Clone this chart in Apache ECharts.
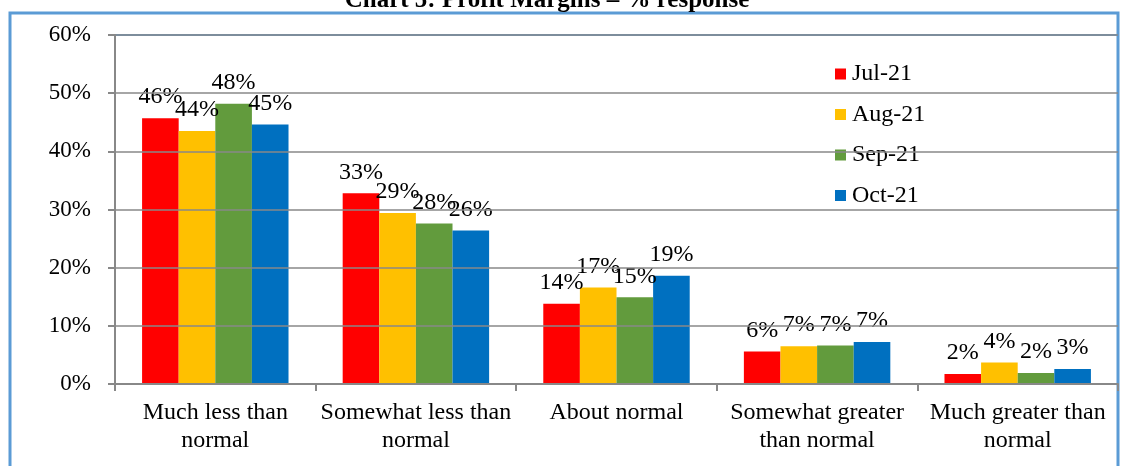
<!DOCTYPE html>
<html lang="en">
<head>
    <meta charset="UTF-8">
    <title>Chart 5: Profit Margins</title>
    <script src="https://cdn.jsdelivr.net/npm/echarts@6/dist/echarts.min.js"></script>
    <style>
        body, html {
            margin: 0;
            height: 100%;
            background: #fff;
        }

        #chart {
            width: 1138px;
            height: 466px;
        }
    </style>
</head>
<body>
<div id="chart"></div>
<script>
    // categories and series (percent response)
    const categories = ['Much less than\nnormal', 'Somewhat less than\nnormal', 'About normal',
        'Somewhat greater\nthan normal', 'Much greater than\nnormal'];
    const months = ['Jul-21', 'Aug-21', 'Sep-21', 'Oct-21'];
    const jul21 = [45.7, 32.8, 13.8, 5.6, 1.7];
    const aug21 = [43.5, 29.4, 16.6, 6.5, 3.7];
    const sep21 = [48.2, 27.6, 14.9, 6.6, 1.9];
    const oct21 = [44.6, 26.4, 18.6, 7.2, 2.6];
    const yTicks = [0, 10, 20, 30, 40, 50, 60];

    const colors = ['#ff0000', '#ffc000', '#629b3d', '#0070c0'];
    const font = 'Liberation Serif, Times New Roman, serif';

    const chart = echarts.init(document.getElementById('chart'));

    const seriesData = [jul21, aug21, sep21, oct21];

    const option = {
        animation: false,
        title: {
            text: 'Chart 5: Profit Margins \u2013 % response',
            left: 542,
            textAlign: 'center',
            top: -17,
            textStyle: {fontFamily: font, fontSize: 25, fontWeight: 'bold', color: '#000'}
        },
        graphic: [{
            type: 'rect',
            shape: {x: 10, y: 13, width: 1108, height: 470},
            style: {fill: 'none', stroke: '#5b9bd5', lineWidth: 3},
            z: -1
        }],
        legend: {
            orient: 'vertical',
            left: 830,
            top: 57,
            itemWidth: 11,
            itemHeight: 11,
            itemGap: 16.5,
            icon: 'rect',
            textStyle: {fontFamily: font, fontSize: 24, color: '#000', padding: [0, 0, 0, 1]},
            data: months
        },
        grid: {
            left: 115,
            right: 20,
            top: 35,
            bottom: 82,
            show: true,
            borderColor: '#5b9bd5',
            borderWidth: 2
        },
        xAxis: {
            type: 'category',
            data: categories,
            z: 5,
            axisLine: {lineStyle: {color: '#888', width: 2}},
            axisTick: {show: true, length: 7, lineStyle: {color: '#888', width: 2}},
            axisLabel: {
                fontFamily: font, fontSize: 24, color: '#000',
                lineHeight: 28, margin: 15, interval: 0
            }
        },
        yAxis: {
            type: 'value',
            min: yTicks[0],
            max: yTicks[yTicks.length - 1],
            interval: 10,
            z: 5,
            axisLine: {show: true, lineStyle: {color: '#888', width: 2}},
            axisTick: {show: true, length: 7, lineStyle: {color: '#888', width: 2}},
            splitLine: {lineStyle: {color: '#888', width: 1.5}},
            axisLabel: {
                fontFamily: font, fontSize: 23, color: '#000', margin: 24,
                formatter: v => v + '%'
            }
        },
        series: months.map((m, i) => ({
            name: m,
            type: 'bar',
            data: seriesData[i],
            barGap: '0%',
            barCategoryGap: '27%',
            itemStyle: {color: colors[i]},
            label: {
                show: true,
                position: 'top',
                distance: 9,
                fontFamily: font,
                fontSize: 24,
                color: '#000',
                formatter: p => Math.round(p.value) + '%'
            }
        }))
    };

    chart.setOption(option);
</script>
</body>
</html>
